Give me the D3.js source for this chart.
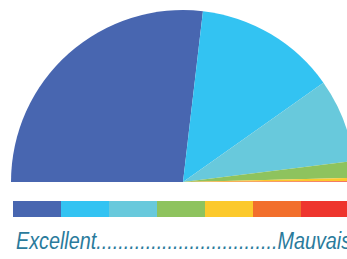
<!DOCTYPE html>
<html>
<head>
<meta charset="utf-8">
<script src="https://cdn.jsdelivr.net/npm/d3@7"></script>
<style>
  body { margin: 0; background: #fff; }
  svg { display: block; }
</style>
</head>
<body>
<svg id="chart" width="347" height="259"></svg>
<script>
// categories from best to worst, with their share of the half pie
var categories = ["Excellent", "Tres bon", "Bon", "Moyen", "Passable", "Mediocre", "Mauvais"];
var shares = [53.7, 26.7, 15.7, 3.1, 0.6, 0.1, 0.1];
var colors = ["#4866b0", "#33c3f2", "#68c9dc", "#8ec35e", "#fcc92c", "#f26f2c", "#ee352e"];
var legendLabels = ["Excellent", "Mauvais"];

var svg = d3.select("#chart");

var cx = 183, cy = 182, radius = 172;

var pie = d3.pie()
    .sort(null)
    .startAngle(-Math.PI / 2)
    .endAngle(Math.PI / 2)
    .value(function(d) { return d.value; });

var arcpath = d3.arc()
    .innerRadius(0)
    .outerRadius(radius);

var piedata = categories.map(function(c, i) {
  return {category: c, value: shares[i]};
});

var colorScale = d3.scaleOrdinal().domain(categories).range(colors);

svg.append("g")
    .attr("transform", "translate(" + cx + "," + cy + ")")
  .selectAll(".pieslice")
  .data(pie(piedata))
  .enter()
  .append("path")
    .classed("pieslice", true)
    .attr("d", arcpath)
    .attr("fill", function(d) { return colorScale(d.data.category); });

// colour key under the pie
var keyScale = d3.scaleBand()
    .domain(categories)
    .range([13, 13 + 48 * categories.length]);

svg.append("g")
  .selectAll("rect")
  .data(categories)
  .enter()
  .append("rect")
    .attr("x", function(d) { return keyScale(d); })
    .attr("y", 201)
    .attr("width", keyScale.bandwidth())
    .attr("height", 16)
    .attr("fill", function(d) { return colorScale(d); });

// label line: Excellent.....Mauvais
svg.append("text")
    .attr("transform", "translate(16,249) scale(0.86,1)")
    .attr("font-family", "Liberation Sans, Arial, sans-serif")
    .attr("font-style", "italic")
    .attr("font-size", 23)
    .attr("fill", "#2a7b9c")
    .text(legendLabels[0] + ".".repeat(33) + legendLabels[1]);
</script>
</body>
</html>
